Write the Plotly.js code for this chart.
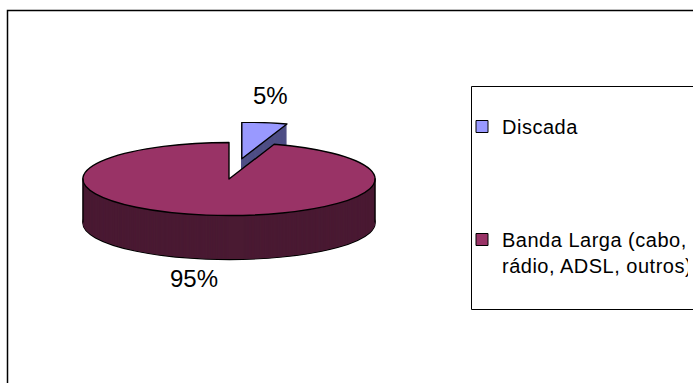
<!DOCTYPE html>
<html>
<head>
<meta charset="utf-8">
<script src="https://cdn.plot.ly/plotly-3.0.1.min.js"></script>
<style>
  html, body { margin: 0; padding: 0; background: #ffffff; }
  #wrap { position: relative; width: 693px; height: 383px; overflow: hidden; background: #fff; }
  #pie { position: absolute; }
  #over { position: absolute; left: 0; top: 0; width: 693px; height: 383px; }
  .pielayer path.surface { vector-effect: non-scaling-stroke; }
  #over .legendtext { letter-spacing: 0.5px; }
</style>
</head>
<body>
<div id="wrap">
  <div id="pie"></div>
  <div id="over"></div>
</div>
<script>
// ---- data ----
const labels = ['Discada', 'Banda Larga (cabo, rádio, ADSL, outros)'];
const legendNames = ['Discada', 'Banda Larga (cabo,<br>rádio, ADSL, outros)'];
const values = [5, 95];
const pulls = [0.56, 0];
const topColors = ['#9999FF', '#993366'];
const sideColors = ['#4F4F86', '#4A1A33'];

// ---- 3D-look pie: stacked pie layers, squashed vertically ----
const R = 146;             // on-screen horizontal radius
const squash = 0.25;       // vertical/horizontal ratio of the top ellipse
const depthScreen = 44;    // on-screen thickness
const cxScreen = 229, cyScreen = 178.5;
const maxPull = Math.max(...pulls);
const S = Math.round(2 * R * (1 + maxPull));   // layer box size (unsquashed px)
const D = depthScreen / squash;                // thickness (unsquashed px)
const W = S, H = Math.round(S + D);
const N = 89;

const traces = [];
for (let k = 0; k < N; k++) {
  const off = D * (N - 1 - k) / (N - 1);   // px from top of plot
  const isTop = k === N - 1, isBottom = k === 0;
  traces.push({
    type: 'pie',
    labels: labels,
    values: values,
    pull: pulls,
    sort: false,
    direction: 'clockwise',
    rotation: 0,
    textinfo: 'none',
    hoverinfo: 'skip',
    showlegend: false,
    domain: { x: [0, 1], y: [1 - (off + S) / H, 1 - off / H] },
    marker: {
      colors: isTop ? topColors : sideColors,
      line: { color: '#000000', width: isTop ? 1.4 : (isBottom ? 1.2 : 0) }
    }
  });
}
const pieDiv = document.getElementById('pie');
pieDiv.style.left = (cxScreen - W / 2) + 'px';
pieDiv.style.top = (cyScreen - (S / 2) * squash) + 'px';
pieDiv.style.width = W + 'px';
pieDiv.style.height = (H * squash) + 'px';

Plotly.newPlot(pieDiv, traces, {
  width: W, height: H,
  margin: { l: 0, r: 0, t: 0, b: 0 },
  paper_bgcolor: 'rgba(0,0,0,0)',
  plot_bgcolor: 'rgba(0,0,0,0)',
  showlegend: false
}, { staticPlot: true, displayModeBar: false }).then(function () {
  pieDiv.querySelectorAll('svg.main-svg').forEach(function (svg) {
    svg.setAttribute('viewBox', '0 0 ' + W + ' ' + H);
    svg.setAttribute('preserveAspectRatio', 'none');
    svg.setAttribute('height', H * squash);
    svg.style.height = (H * squash) + 'px';
  });
  const c = pieDiv.querySelector('.svg-container');
  if (c) c.style.height = (H * squash) + 'px';
});

// ---- overlay: frame, side edges, percentage labels, legend ----
const total = values.reduce((a, b) => a + b, 0);
const pctText = values.map(v => Math.round(v / total * 100) + '%');
const labelPos = [[270.5, 95], [193.5, 278.5]];

const legendTraces = labels.map((l, i) => ({
  type: 'scatter', mode: 'markers',
  x: [-100], y: [-100],
  name: legendNames[i],
  legendgroup: 'g' + i,
  marker: { symbol: 'square', size: 12, color: topColors[i], line: { color: '#000', width: 1 } },
  hoverinfo: 'skip'
}));

const sideEdges = [-1, 1].map(sgn => ({
  type: 'line', xref: 'x', yref: 'y',
  x0: cxScreen + sgn * R, x1: cxScreen + sgn * R,
  y0: cyScreen, y1: cyScreen + depthScreen,
  line: { color: '#000', width: 1.3 }
}));

Plotly.newPlot('over', legendTraces, {
  width: 693, height: 383,
  margin: { l: 0, r: 0, t: 0, b: 0 },
  paper_bgcolor: 'rgba(0,0,0,0)',
  plot_bgcolor: 'rgba(0,0,0,0)',
  xaxis: { range: [0, 693], visible: false, fixedrange: true },
  yaxis: { range: [383, 0], visible: false, fixedrange: true },
  showlegend: true,
  legend: {
    x: 462 / 693, y: 1 - 107 / 383, xanchor: 'left', yanchor: 'top',
    bgcolor: 'rgba(0,0,0,0)', borderwidth: 0,
    traceorder: 'grouped', tracegroupgap: 84, valign: 'top',
    font: { family: 'Liberation Sans, Arial, sans-serif', size: 20, color: '#000' }
  },
  shapes: [
    { type: 'rect', xref: 'x', yref: 'y', x0: 7.5, x1: 720, y0: 10.5, y1: 420,
      line: { color: '#000', width: 1.5 }, fillcolor: 'rgba(0,0,0,0)' },
    { type: 'rect', xref: 'x', yref: 'y', x0: 471.5, x1: 720, y0: 86.5, y1: 309.5,
      line: { color: '#000', width: 1 }, fillcolor: 'rgba(0,0,0,0)' }
  ].concat(sideEdges),
  annotations: pctText.map((t, i) => ({
    x: labelPos[i][0], y: labelPos[i][1], xref: 'x', yref: 'y',
    text: t, showarrow: false, xanchor: 'center', yanchor: 'middle',
    font: { family: 'Liberation Sans, Arial, sans-serif', size: 24, color: '#000' }
  }))
}, { staticPlot: true, displayModeBar: false });
</script>
</body>
</html>
